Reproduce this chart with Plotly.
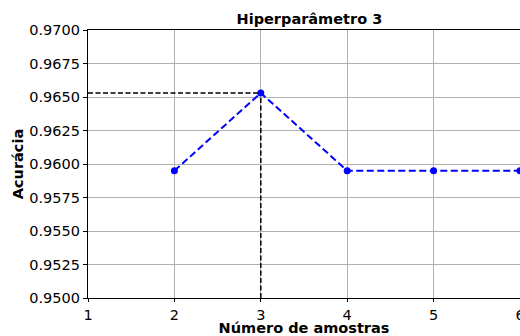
import plotly.graph_objects as go

# Accuracy per number of samples (hyperparameter 3)
amostras = [2, 3, 4, 5, 6]
acuracia = [0.9595, 0.9653, 0.9595, 0.9595, 0.9595]

melhor_x = amostras[acuracia.index(max(acuracia))]
melhor_y = max(acuracia)

x_min, x_max = 1, 6
y_min, y_max = 0.95, 0.97

fig = go.Figure()

# Reference lines marking the best result
guia = dict(color="black", width=1.5, dash="5px,2.5px")
fig.add_trace(go.Scatter(
    x=[x_min, melhor_x], y=[melhor_y, melhor_y], mode="lines",
    line=guia, showlegend=False, hoverinfo="skip"))
fig.add_trace(go.Scatter(
    x=[melhor_x, melhor_x], y=[y_min, melhor_y], mode="lines",
    line=guia, showlegend=False, hoverinfo="skip"))

# Accuracy curve
fig.add_trace(go.Scatter(
    x=amostras, y=acuracia, mode="lines+markers",
    line=dict(color="blue", width=2, dash="7px,3.5px"),
    marker=dict(color="blue", size=7), showlegend=False,
    cliponaxis=False))

font_family = "DejaVu Sans"
fs = 14.5
fig.update_layout(
    width=520, height=336,
    margin=dict(l=88, r=0, t=30, b=38),
    paper_bgcolor="white", plot_bgcolor="white",
    font=dict(family=font_family, size=fs, color="black"),
    title=dict(text="<b>Hiperparâmetro 3</b>", x=0.595,
               xanchor="center", y=1 - 19 / 336, yanchor="middle",
               font=dict(size=fs)),
)
fig.update_xaxes(
    range=[x_min, x_max], dtick=1, tick0=1,
    showgrid=True, gridcolor="#b0b0b0", gridwidth=1,
    showline=True, linecolor="black", linewidth=1.2, mirror=True,
    ticks="outside", ticklen=3, tickcolor="black",
    ticklabeloverflow="allow", automargin=False,
    zeroline=False,
    title=dict(text="<b>Número de amostras</b>", standoff=0, font=dict(size=fs)),
)
fig.update_yaxes(
    range=[y_min, y_max], dtick=0.0025, tick0=0.95, tickformat=".4f",
    showgrid=True, gridcolor="#b0b0b0", gridwidth=1,
    showline=True, linecolor="black", linewidth=1.2, mirror=True,
    ticks="outside", ticklen=4, tickcolor="black",
    automargin=False,
    zeroline=False,
    title=dict(text="<b>Acurácia</b>", standoff=2, font=dict(size=fs)),
)

fig.write_html("out.html")
